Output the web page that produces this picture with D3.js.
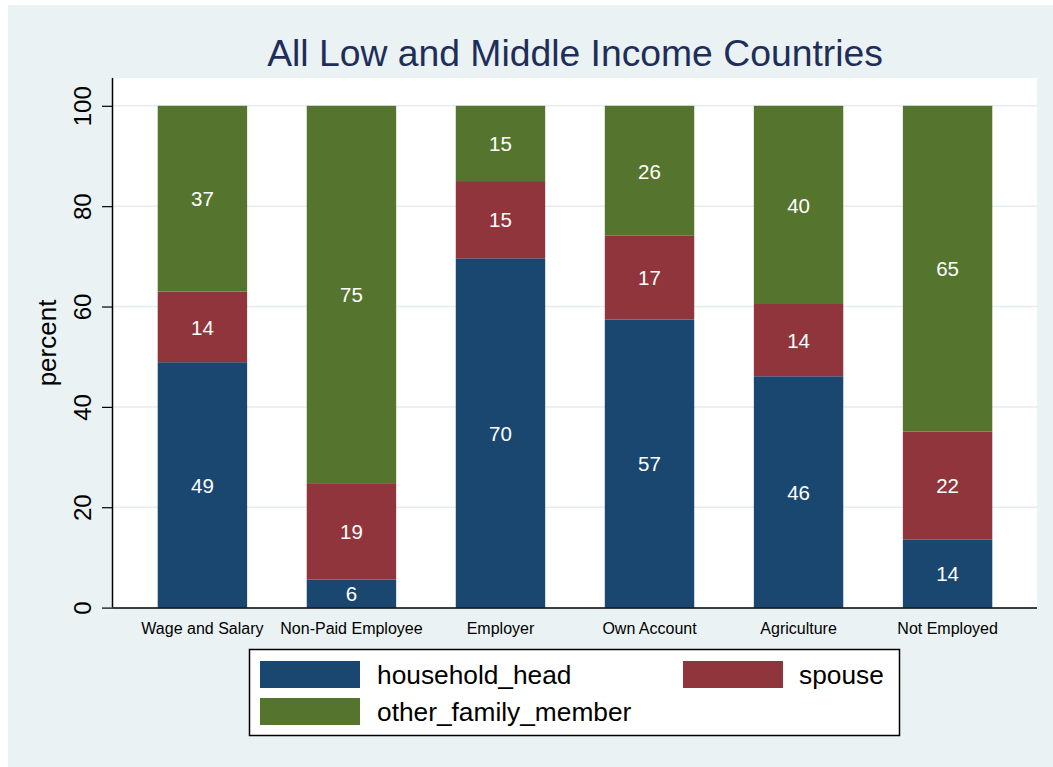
<!DOCTYPE html>
<html>
<head>
<meta charset="utf-8">
<script src="https://cdn.jsdelivr.net/npm/d3@7"></script>
<style>
  html, body { margin: 0; padding: 0; background: #ffffff; }
  svg { display: block; font-family: "Liberation Sans", Arial, sans-serif; }
</style>
</head>
<body>
<svg id="chart" width="1053" height="767"></svg>
<script>
// ---- Data ----
const categories = ["Wage and Salary", "Non-Paid Employee", "Employer", "Own Account", "Agriculture", "Not Employed"];
const seriesNames = ["household_head", "spouse", "other_family_member"];
const householdHead = [48.9, 5.6, 69.6, 57.4, 46.1, 13.6];
const spouse        = [14.1, 19.2, 15.4, 16.7, 14.4, 21.5];
const otherFamily   = [37.0, 75.2, 15.0, 25.9, 39.5, 64.9];
const yTicks = [0, 20, 40, 60, 80, 100];
const titleText = "All Low and Middle Income Countries";
const yAxisTitle = "percent";

// ---- Styles ----
const colors = { household_head: "#1a476f", spouse: "#90353b", other_family_member: "#55752f" };
const bgColor = "#eaf2f3";
const gridColor = "#e4edef";

const svg = d3.select("#chart");
const W = 1053, H = 767;
const plot = { left: 113, right: 1037, top: 78, bottom: 607.6 };

// outer background
svg.append("rect").attr("x", 8).attr("y", 5).attr("width", W - 8).attr("height", H - 5).attr("fill", bgColor);
// plot region
svg.append("rect").attr("x", plot.left).attr("y", plot.top)
  .attr("width", plot.right - plot.left).attr("height", plot.bottom - plot.top).attr("fill", "#ffffff");

const x = d3.scaleBand().domain(categories).range([plot.left, plot.right]).paddingInner(0.4).paddingOuter(0.3);
const y = d3.scaleLinear().domain([0, 100]).range([plot.bottom, 105.8]);

// gridlines
svg.append("g").selectAll("line").data(yTicks.filter(d => d > 0)).join("line")
  .attr("x1", plot.left).attr("x2", plot.right)
  .attr("y1", d => y(d)).attr("y2", d => y(d))
  .attr("stroke", gridColor).attr("stroke-width", 1.5);

// stacked data
const rows = categories.map((c, i) => ({
  category: c,
  household_head: householdHead[i],
  spouse: spouse[i],
  other_family_member: otherFamily[i]
}));
const stack = d3.stack().keys(seriesNames)(rows);

const layers = svg.append("g").selectAll("g").data(stack).join("g")
  .attr("fill", d => colors[d.key]);
layers.selectAll("rect").data(d => d).join("rect")
  .attr("x", d => x(d.data.category))
  .attr("width", x.bandwidth())
  .attr("y", d => y(d[1]))
  .attr("height", d => y(d[0]) - y(d[1]));

// value labels
const labelG = svg.append("g");
stack.forEach(layer => {
  labelG.selectAll(null).data(layer).join("text")
    .attr("x", d => x(d.data.category) + x.bandwidth() / 2)
    .attr("y", d => y((d[0] + d[1]) / 2))
    .attr("dy", "0.38em")
    .attr("text-anchor", "middle")
    .attr("fill", "#ffffff")
    .attr("font-size", 20.5)
    .text(d => Math.round(d.data[layer.key]));
});

// y axis
const yAxis = d3.axisLeft(y).tickValues(yTicks).tickSize(11).tickPadding(0).tickFormat(d3.format("d"));
const yg = svg.append("g").attr("transform", `translate(${plot.left},0)`).call(yAxis);
yg.select(".domain").attr("d", `M-0.5,${plot.top}V${plot.bottom}`).attr("stroke", "#000").attr("stroke-width", 1.5);
yg.selectAll(".tick line").attr("stroke", "#000").attr("stroke-width", 1.2);
yg.selectAll(".tick text")
  .attr("font-size", 24).attr("fill", "#000")
  .attr("text-anchor", "middle")
  .attr("transform", "translate(-31,0) rotate(-90)")
  .attr("x", 0).attr("y", 0).attr("dy", "0.36em");

// x axis
const xAxis = d3.axisBottom(x).tickSize(0).tickPadding(15);
const xg = svg.append("g").attr("transform", `translate(0,${plot.bottom})`).call(xAxis);
xg.select(".domain").attr("d", `M${plot.left},0.5H${plot.right}`).attr("stroke", "#000").attr("stroke-width", 1.5);
xg.selectAll(".tick text").attr("font-size", 16).attr("fill", "#000");

// y axis title
svg.append("text")
  .attr("transform", `translate(47,343) rotate(-90)`)
  .attr("text-anchor", "middle")
  .attr("dy", "0.36em")
  .attr("font-size", 26)
  .attr("fill", "#000")
  .text(yAxisTitle);

// title
svg.append("text")
  .attr("x", (plot.left + plot.right) / 2)
  .attr("y", 65.5)
  .attr("text-anchor", "middle")
  .attr("font-size", 37.3)
  .attr("fill", "#1e2e5a")
  .text(titleText);

// legend
const legend = svg.append("g");
legend.append("rect").attr("x", 249.5).attr("y", 649.5).attr("width", 650).attr("height", 86)
  .attr("fill", "#fff").attr("stroke", "#000").attr("stroke-width", 1.5);
const legendPos = {
  household_head: { x: 260, y: 661, tx: 377, ty: 684 },
  spouse: { x: 683, y: 661, tx: 799, ty: 684 },
  other_family_member: { x: 260, y: 698, tx: 377, ty: 721 }
};
const items = legend.selectAll("g").data(seriesNames).join("g");
items.append("rect")
  .attr("x", d => legendPos[d].x).attr("y", d => legendPos[d].y)
  .attr("width", 100).attr("height", 27)
  .attr("fill", d => colors[d]);
items.append("text")
  .attr("x", d => legendPos[d].tx).attr("y", d => legendPos[d].ty)
  .attr("font-size", 26.3).attr("fill", "#000")
  .text(d => d);
</script>
</body>
</html>
